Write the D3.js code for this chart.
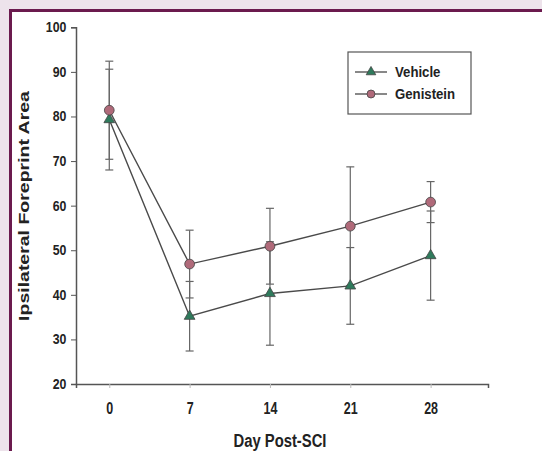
<!DOCTYPE html>
<html>
<head>
<meta charset="utf-8">
<script src="https://cdn.jsdelivr.net/npm/d3@7"></script>
<style>
  body { margin: 0; background: #ede3eb; }
  svg { display: block; }
</style>
</head>
<body>
<div id="chart"></div>
<script>
var days = [0, 7, 14, 21, 28];
var vehicle = [79.3, 35.2, 40.3, 42.0, 48.8];
var vehicleErr = [11.3, 7.8, 11.6, 8.6, 10.0];
var genistein = [81.4, 46.9, 50.9, 55.4, 60.8];
var genisteinErr = [11.0, 7.6, 8.5, 13.3, 4.6];
var yTicks = [20, 30, 40, 50, 60, 70, 80, 90, 100];
var seriesNames = ['Vehicle', 'Genistein'];

var w = 542, h = 451;
var svg = d3.select('#chart').append('svg')
  .attr('width', w)
  .attr('height', h);

// frame: white panel with maroon border on top and left
svg.append('rect')
  .attr('x', 10.5).attr('y', 10.5)
  .attr('width', w).attr('height', h)
  .style('fill', '#fff')
  .style('stroke', '#6b1a4e')
  .style('stroke-width', 3);

var x = d3.scaleLinear().domain([-2.9, 33]).range([76, 488]);
var y = d3.scaleLinear().domain([20, 100]).range([384, 27.3]);

var font = '"Liberation Sans", Arial, sans-serif';
var g = svg.append('g')
  .style('font-family', font)
  .style('font-weight', 'bold');

// y axis
var yAxis = g.append('g')
  .attr('transform', 'translate(76,0)')
  .call(d3.axisLeft(y).tickValues(yTicks).tickSize(5).tickPadding(6));
yAxis.select('.domain').style('stroke', '#555').style('stroke-width', 1.5);
yAxis.selectAll('.tick line').style('stroke', '#555');
yAxis.selectAll('text').style('font-size', '14px').style('fill', '#222')
  .style('font-family', font)
  .attr('transform', 'scale(0.88,1)');

// x axis
var xAxis = g.append('g')
  .attr('transform', 'translate(0,384)')
  .call(d3.axisBottom(x).tickValues(days).tickSizeOuter(0).tickSize(4).tickPadding(0));
xAxis.select('.domain').style('stroke', '#555').style('stroke-width', 1.5);
xAxis.selectAll('.tick line').style('stroke', '#bbb');
xAxis.selectAll('text').style('font-size', '16px').style('fill', '#222')
  .style('font-family', font)
  .attr('y', 0).attr('dy', 0)
  .attr('transform', 'translate(0,30) scale(0.78,1)');

// axis titles
g.append('text')
  .attr('transform', 'translate(280,447) scale(0.78,1)')
  .attr('text-anchor', 'middle')
  .style('font-size', '19px').style('fill', '#222')
  .text('Day Post-SCI');

g.append('text')
  .attr('transform', 'translate(29,206) scale(0.78,1) rotate(-90)')
  .attr('text-anchor', 'middle')
  .style('font-size', '19.5px').style('fill', '#222')
  .text('Ipsilateral Foreprint Area');

var series = [
  { name: seriesNames[0], vals: vehicle, err: vehicleErr, shape: d3.symbolTriangle, fill: '#2f7a5c' },
  { name: seriesNames[1], vals: genistein, err: genisteinErr, shape: d3.symbolCircle, fill: '#b06a7a' }
];

// error bars
series.forEach(function(s) {
  days.forEach(function(d, i) {
    var hi = s.vals[i] + s.err[i], lo = s.vals[i] - s.err[i];
    g.append('line')
      .attr('x1', x(d)).attr('x2', x(d))
      .attr('y1', y(hi)).attr('y2', y(lo))
      .style('stroke', '#666').style('stroke-width', 1.2);
    [hi, lo].forEach(function(v) {
      g.append('line')
        .attr('x1', x(d) - 4).attr('x2', x(d) + 4)
        .attr('y1', y(v)).attr('y2', y(v))
        .style('stroke', '#666').style('stroke-width', 1.2);
    });
  });
});

var line = d3.line()
  .x(function(d, i) { return x(days[i]); })
  .y(function(d) { return y(d); });

series.forEach(function(s) {
  g.append('path')
    .datum(s.vals)
    .attr('d', line)
    .style('fill', 'none')
    .style('stroke', '#4a4a4a')
    .style('stroke-width', 1.4);
});

series.forEach(function(s) {
  g.selectAll(null)
    .data(s.vals)
    .enter().append('path')
    .attr('transform', function(d, i) { return 'translate(' + x(days[i]) + ',' + y(d) + ')'; })
    .attr('d', d3.symbol().type(s.shape).size(s.shape === d3.symbolCircle ? 75 : 50))
    .style('fill', s.fill)
    .style('stroke', '#444')
    .style('stroke-width', 0.8);
});

// legend
var lg = g.append('g').attr('transform', 'translate(348,52)');
lg.append('rect')
  .attr('width', 123).attr('height', 62)
  .style('fill', '#fff').style('stroke', '#555').style('stroke-width', 1.2);
series.forEach(function(s, i) {
  var ly = 20 + i * 22;
  lg.append('line')
    .attr('x1', 7).attr('x2', 39)
    .attr('y1', ly).attr('y2', ly)
    .style('stroke', '#555').style('stroke-width', 1.4);
  lg.append('path')
    .attr('transform', 'translate(23,' + ly + ')')
    .attr('d', d3.symbol().type(s.shape).size(s.shape === d3.symbolCircle ? 50 : 40))
    .style('fill', s.fill).style('stroke', '#444').style('stroke-width', 0.8);
  lg.append('text')
    .attr('transform', 'translate(47,' + (ly + 5) + ') scale(0.88,1)')
    .style('font-size', '15px').style('fill', '#222')
    .text(s.name);
});
</script>
</body>
</html>
